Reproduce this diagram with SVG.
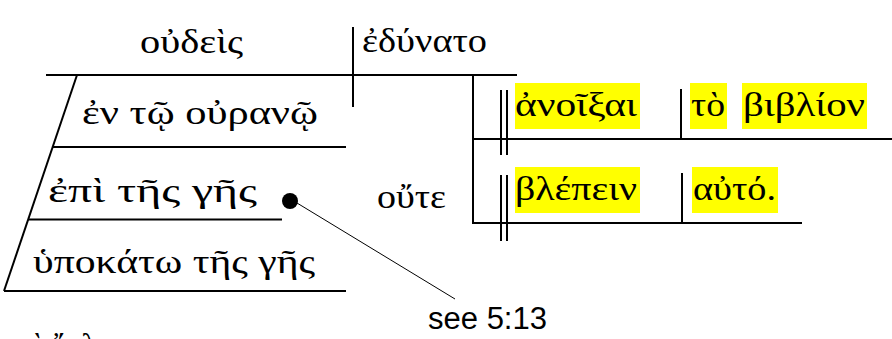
<svg xmlns="http://www.w3.org/2000/svg" width="892" height="339" viewBox="0 0 892 339">
<style>
.g{font-family:"Liberation Serif","DejaVu Serif",serif;font-size:33px;fill:#000}
.lab{font-family:"Liberation Sans",Arial,sans-serif;font-size:31px;fill:#000}
.ln{stroke:#000;stroke-width:2;fill:none}
.thin{stroke:#000;stroke-width:1;fill:none}
.hl{fill:#ffff00}
</style>
<rect width="892" height="339" fill="#fff"/>
<g id="connectors">
<line class="ln" x1="46" y1="75" x2="517" y2="75"/>
<line class="ln" x1="353" y1="27" x2="353" y2="107"/>
<line class="ln" x1="77" y1="75" x2="4" y2="291"/>
<line class="ln" x1="52" y1="147" x2="346" y2="147"/>
<line class="ln" x1="28" y1="219.5" x2="282" y2="219.5"/>
<line class="ln" x1="4" y1="291" x2="346" y2="291"/>
<line class="ln" x1="473" y1="74" x2="473" y2="224"/>
<line class="ln" x1="473" y1="139" x2="892" y2="139"/>
<line class="ln" x1="473" y1="223" x2="802" y2="223"/>
<line class="ln" x1="501" y1="90" x2="501" y2="155"/>
<line class="ln" x1="507" y1="90" x2="507" y2="155"/>
<line class="ln" x1="501" y1="175" x2="501" y2="241"/>
<line class="ln" x1="507" y1="175" x2="507" y2="241"/>
<line class="ln" x1="681" y1="89" x2="681" y2="139"/>
<line class="ln" x1="682" y1="173" x2="682" y2="223"/>
<line class="thin" x1="297" y1="203" x2="455" y2="299"/>
</g>
<g id="subject"><text class="g" x="140" y="53" textLength="103" lengthAdjust="spacingAndGlyphs">οὐδεὶς</text></g>
<g id="verb"><text class="g" x="362" y="52" textLength="125" lengthAdjust="spacingAndGlyphs">ἐδύνατο</text></g>
<g id="mod1"><text class="g" x="82" y="124" textLength="236" lengthAdjust="spacingAndGlyphs">ἐν τῷ οὐρανῷ</text></g>
<g id="mod2"><text class="g" x="48" y="202" textLength="209" lengthAdjust="spacingAndGlyphs">ἐπὶ τῆς γῆς</text></g>
<g id="mod3"><text class="g" x="33" y="273" textLength="282" lengthAdjust="spacingAndGlyphs">ὑποκάτω τῆς γῆς</text></g>
<g id="note-dot"><circle cx="290" cy="201" r="8" fill="#000"/></g>
<g id="note"><text class="lab" x="428" y="329" textLength="119" lengthAdjust="spacingAndGlyphs">see 5:13</text></g>
<g id="conj"><text class="g" x="377" y="208" textLength="69" lengthAdjust="spacingAndGlyphs">οὔτε</text></g>
<g id="inf1">
<rect class="hl" x="515" y="83" width="125" height="46"/>
<text class="g" x="515" y="116" textLength="122" lengthAdjust="spacingAndGlyphs">ἀνοῖξαι</text>
</g>
<g id="obj1">
<rect class="hl" x="690" y="83" width="37" height="46"/>
<rect class="hl" x="742" y="83" width="125" height="46"/>
<text class="g" x="691" y="116" textLength="34" lengthAdjust="spacingAndGlyphs">τὸ</text>
<text class="g" x="743" y="116" textLength="122" lengthAdjust="spacingAndGlyphs">βιβλίον</text>
</g>
<g id="inf2">
<rect class="hl" x="515" y="167" width="125" height="46"/>
<text class="g" x="515" y="200" textLength="122" lengthAdjust="spacingAndGlyphs">βλέπειν</text>
</g>
<g id="obj2">
<rect class="hl" x="692" y="167" width="86" height="46"/>
<text class="g" x="693" y="200" textLength="83" lengthAdjust="spacingAndGlyphs">αὐτό.</text>
</g>
<g id="next"><text class="g" x="0" y="357">καὶ ἔκλαιον</text></g>
</svg>
